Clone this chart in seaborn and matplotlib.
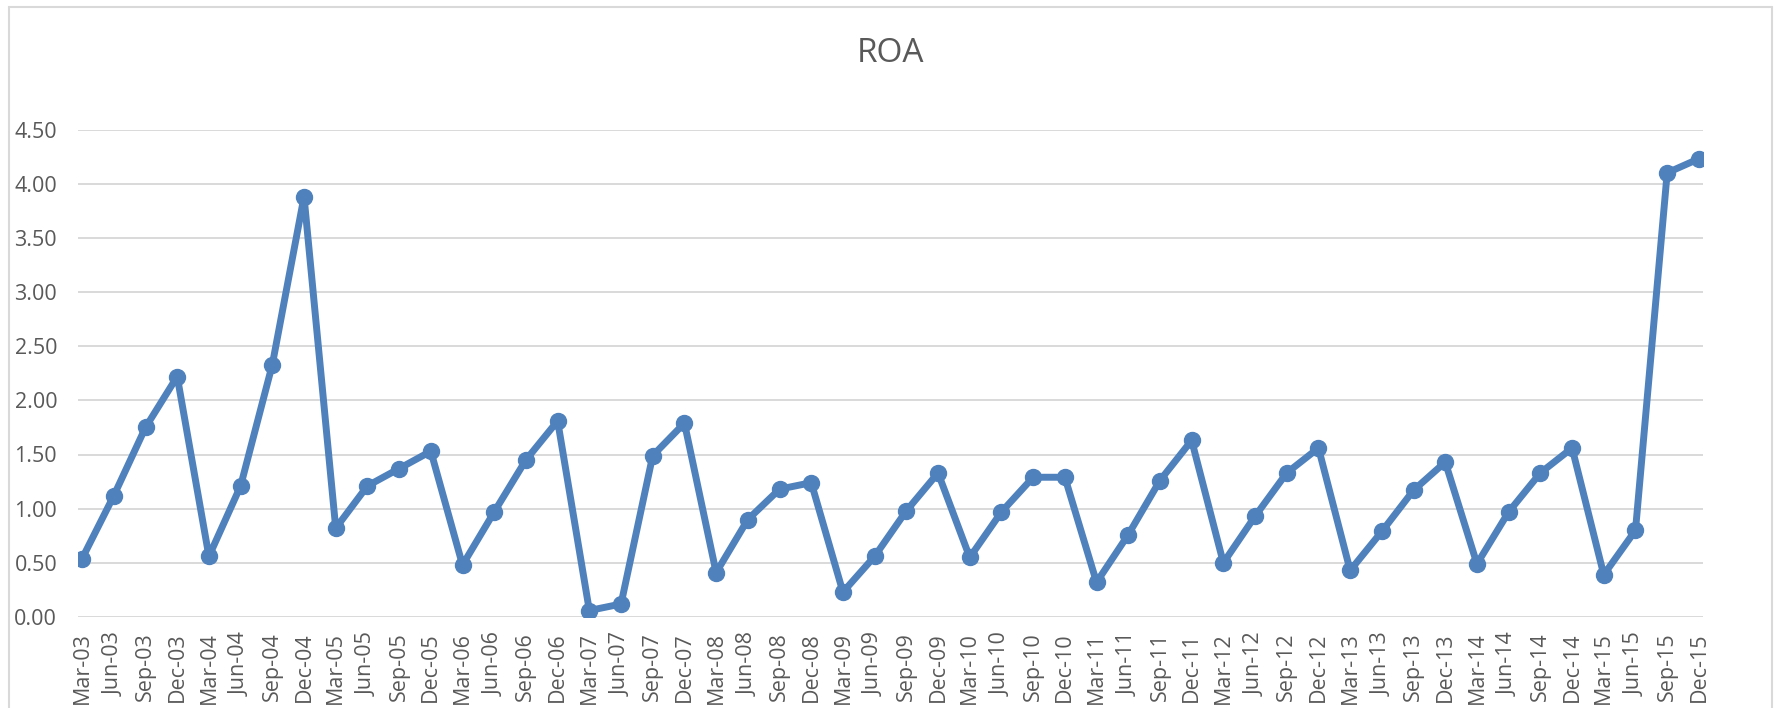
import numpy as np
import pandas as pd
import matplotlib
matplotlib.use('Agg')
import matplotlib.pyplot as plt
import seaborn as sns

# Datos trimestrales de ROA
years = ['03', '04', '05', '06', '07', '08', '09', '10', '11', '12', '13', '14', '15']
months = ['Mar', 'Jun', 'Sep', 'Dec']
quarters = [m + '-' + y for y in years for m in months]

roa = [0.54, 1.12, 1.75, 2.22,
       0.56, 1.21, 2.33, 3.88,
       0.82, 1.21, 1.37, 1.53,
       0.48, 0.97, 1.45, 1.81,
       0.06, 0.12, 1.49, 1.79,
       0.41, 0.90, 1.18, 1.24,
       0.23, 0.56, 0.98, 1.33,
       0.55, 0.97, 1.29, 1.29,
       0.32, 0.76, 1.26, 1.63,
       0.50, 0.93, 1.33, 1.56,
       0.43, 0.79, 1.17, 1.43,
       0.49, 0.97, 1.33, 1.56,
       0.39, 0.80, 4.10, 4.23]

df = pd.DataFrame({'pos': np.arange(len(quarters)), 'Trimestre': quarters, 'ROA': roa})

sns.set_style('white')
plt.rcParams['font.family'] = ['Open Sans', 'DejaVu Sans']

text_color = '#595959'
grid_color = '#D9D9D9'
line_color = '#4F81BD'

fig = plt.figure(figsize=(17.75, 7.08), dpi=100)
ax = fig.add_axes([78 / 1775, 1 - 617 / 708, (1703 - 78) / 1775, (617 - 129.5) / 708])

sns.lineplot(data=df, x='pos', y='ROA', ax=ax, color=line_color, linewidth=5,
             marker='o', markersize=11.5, markeredgecolor=line_color, markeredgewidth=1)

ax.set_xlim(-0.13, len(quarters) - 1 + 0.13)
ax.set_ylim(0, 4.5)
ax.set_yticks(np.arange(0, 4.51, 0.5))
ax.set_yticklabels([f'{v:.2f}' for v in np.arange(0, 4.51, 0.5)])
ax.set_xticks(df['pos'])
ax.set_xticklabels(quarters, rotation=90)
ax.tick_params(axis='x', length=0, pad=11, labelsize=15.5, labelcolor=text_color)
ax.tick_params(axis='y', length=0, pad=15, labelsize=15.5, labelcolor=text_color)
ax.yaxis.grid(True, color=grid_color, linewidth=1.4)
ax.xaxis.grid(False)
ax.set_axisbelow(True)
for s in ax.spines.values():
    s.set_visible(False)
ax.set_xlabel('')
ax.set_ylabel('')

fig.text(890 / 1775, 1 - 53 / 708, 'ROA', ha='center', va='center',
         fontsize=24, color=text_color)

# Borde del área del gráfico
fig.add_artist(plt.Line2D([9 / 1775, 9 / 1775], [0, 1 - 7 / 708], color=grid_color, linewidth=1.5, transform=fig.transFigure))
fig.add_artist(plt.Line2D([1772 / 1775, 1772 / 1775], [0, 1 - 7 / 708], color=grid_color, linewidth=1.5, transform=fig.transFigure))
fig.add_artist(plt.Line2D([9 / 1775, 1772 / 1775], [1 - 7 / 708, 1 - 7 / 708], color=grid_color, linewidth=1.5, transform=fig.transFigure))

fig.savefig('out.png', dpi=100)
